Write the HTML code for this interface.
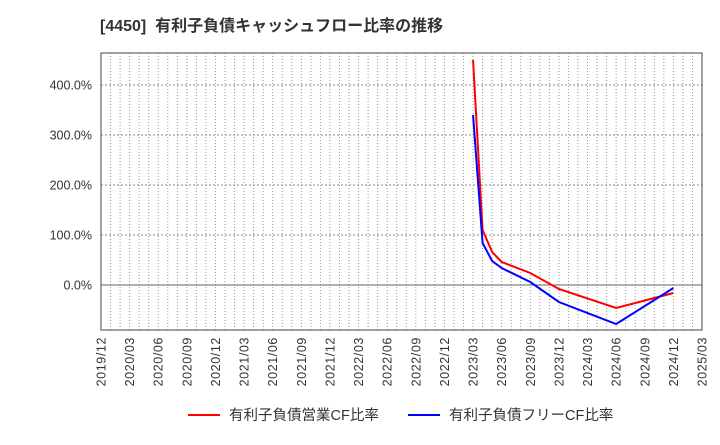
<!DOCTYPE html>
<html><head><meta charset="utf-8"><style>
body{margin:0;background:#fff;font-family:"Liberation Sans","Noto Sans CJK JP",sans-serif;}
</style></head><body>
<svg width="720" height="440" xmlns="http://www.w3.org/2000/svg" id="chart">
<text x="100" y="31" font-size="16" font-weight="bold" fill="#333" font-family="Liberation Sans, Noto Sans CJK JP, sans-serif">[4450]&#160;&#160;有利子負債キャッシュフロー比率の推移</text>
<g id="grid"></g><g id="series"></g><g id="axes"></g>
<g font-size="14.5" fill="#333" font-family="Liberation Sans, Noto Sans CJK JP, sans-serif">
<line x1="188" y1="415" x2="220" y2="415" stroke="#f00" stroke-width="2"/>
<text x="229" y="420">有利子負債営業CF比率</text>
<line x1="408" y1="415" x2="440" y2="415" stroke="#00f" stroke-width="2"/>
<text x="449" y="420">有利子負債フリーCF比率</text>
</g>
</svg>
<script>
const tickLabels=["2019/12","2020/03","2020/06","2020/09","2020/12","2021/03","2021/06","2021/09","2021/12","2022/03","2022/06","2022/09","2022/12","2023/03","2023/06","2023/09","2023/12","2024/03","2024/06","2024/09","2024/12","2025/03"];
const yTicks=[0,100,200,300,400];
// month index from 2019/12
const months=[39,40,41,42,45,48,54,60];
const redVals=[450,110,66,46,24,-8,-46,-16];
const blueVals=[340,84,48,34,6,-34,-78,-6];
const L=101,R=702,T=53,B=330;
const x=m=>L+(m/63)*(R-L);
const y=v=>285-v*0.5;
const NS="http://www.w3.org/2000/svg";
function mk(p,tag,a){const e=document.createElementNS(NS,tag);for(const k in a)e.setAttribute(k,a[k]);document.getElementById(p).appendChild(e);return e;}
for(let m=0;m<=63;m++){const l=mk('grid','line',{x1:x(m),x2:x(m),y1:T,y2:B,stroke:'#999','stroke-dasharray':'1,2','stroke-width':1});

}
yTicks.forEach(v=>{const l=mk('grid','line',{x1:L,x2:R,y1:y(v),y2:y(v),stroke:v===0?'#666':'#888','stroke-dasharray':v===0?'':'2,2','stroke-width':1});


const t=mk('axes','text',{x:L-9,y:y(v)+4.5,'text-anchor':'end','font-size':12.5,fill:'#333'});


t.textContent=v.toFixed(1)+'%';});
tickLabels.forEach((s,i)=>{const px=x(i*3);const t=mk('axes','text',{x:px+4.5,y:B+7,'text-anchor':'end','font-size':12.5,fill:'#333','letter-spacing':'0.6',transform:`rotate(-90 ${px+4.5} ${B+7})`});


t.textContent=s;});
const fr=mk('axes','rect',{x:L,y:T,width:R-L,height:B-T,fill:'none',stroke:'#444','stroke-width':1});


function line(vals,c,name){const p=mk('series','polyline',{points:vals.map((v,i)=>x(months[i])+','+y(v)).join(' '),fill:'none',stroke:c,'stroke-width':2});

}
line(redVals,'#f00','operating-cf-line');
line(blueVals,'#00f','free-cf-line');
</script>
</body></html>
